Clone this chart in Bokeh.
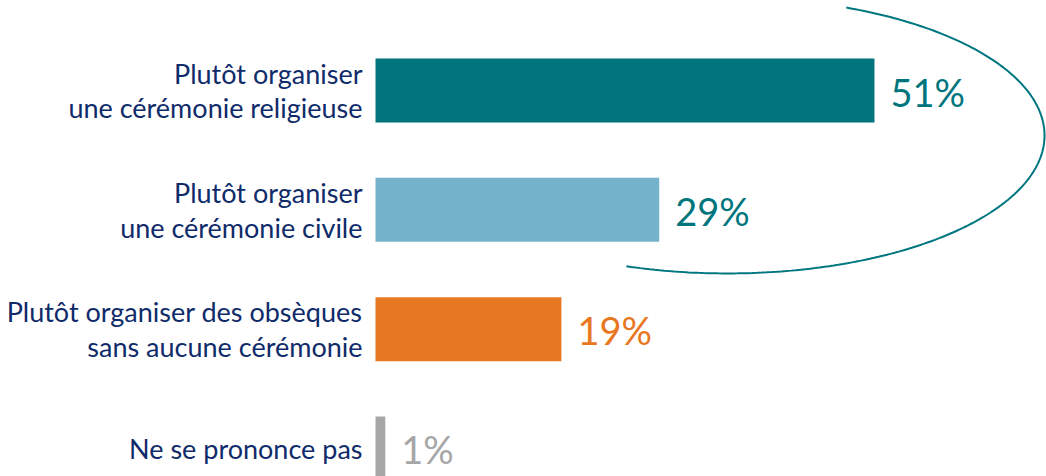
import numpy as np
from bokeh.plotting import figure
from bokeh.models import ColumnDataSource, Range1d
from bokeh.core.properties import value
from bokeh.embed import file_html
from bokeh.resources import INLINE

categories = [
    "Plutôt organiser\nune cérémonie religieuse",
    "Plutôt organiser\nune cérémonie civile",
    "Plutôt organiser des obsèques\nsans aucune cérémonie",
    "Ne se prononce pas",
]
values = [51, 29, 19, 1]
labels = ["51%", "29%", "19%", "1%"]
bar_colors = ["#00757D", "#74B3CB", "#E87722", "#A6A6A6"]
label_colors = ["#00757D", "#00757D", "#E87722", "#A6A6A6"]

W, H = 1046, 476
px_per_unit = 9.784
bar_left_px = 375
x0 = -bar_left_px / px_per_unit
x1 = (W - bar_left_px) / px_per_unit
row_px = 119.33
first_px = 90
y_top = -first_px / row_px
y_bot = (H - first_px) / row_px

p = figure(width=W, height=H, output_backend="svg", toolbar_location=None,
           x_range=Range1d(x0, x1), y_range=Range1d(y_bot, y_top),
           min_border=0, outline_line_color=None)
p.axis.visible = False
p.grid.visible = False
p.background_fill_color = "white"
p.border_fill_color = "white"

ys = list(range(len(categories)))
src = ColumnDataSource(dict(y=ys, v=values, cat=categories, lab=labels,
                            bc=bar_colors, lc=label_colors, zero=[0]*len(ys)))

p.hbar(y="y", left=0, right="v", height=0.536, fill_color="bc",
       line_color=None, source=src)

p.text(x="zero", y="y", text="cat", source=src, x_offset=-13, y_offset=0,
       text_align="right", text_baseline="middle",
       text_font=value("Lato"), text_font_size="27px",
       text_color="#0F2B6A", text_line_height=1.05)

p.text(x="v", y="y", text="lab", source=src, x_offset=16, y_offset=1,
       text_align="left", text_baseline="middle",
       text_font=value("Lato"), text_font_size="38px", text_color="lc")

# decorative ellipse arc around first two bars
cx, cy = 35.98, 0.377
a, b = 32.4, 1.156
t = np.radians(np.linspace(-68, 108.6, 200))
p.line(cx + a*np.cos(t), cy + b*np.sin(t), line_color="#007780", line_width=2)

open("out.html", "w").write(file_html(p, INLINE))
